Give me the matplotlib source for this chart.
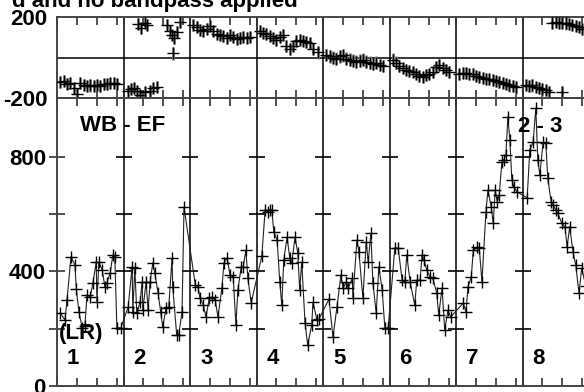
import matplotlib
matplotlib.use("Agg")
import matplotlib.pyplot as plt
import numpy as np

plt.rcParams['font.family'] = ['Liberation Sans', 'DejaVu Sans']

# amplitude (bottom panel), x in panel units (panel i spans i..i+1)
amp_x = [0.05, 0.12, 0.15, 0.21, 0.27, 0.29, 0.33, 0.38, 0.42, 0.45, 0.50, 0.54, 0.59, 0.60, 0.63,
         0.68, 0.72, 0.75, 0.80, 0.84, 0.87, 0.90, 0.96,
         1.07, 1.13, 1.14, 1.17, 1.20, 1.25, 1.28, 1.29, 1.34, 1.37, 1.40, 1.44, 1.47, 1.52, 1.56,
         1.59, 1.64, 1.68, 1.73, 1.74, 1.80, 1.83, 1.88, 1.91,
         2.08, 2.12, 2.15, 2.20, 2.24, 2.29, 2.33, 2.38, 2.42, 2.48, 2.51, 2.56, 2.60, 2.65, 2.69,
         2.72, 2.77, 2.80, 2.84, 2.87, 2.92,
         3.08, 3.13, 3.17, 3.20, 3.23, 3.26, 3.31, 3.35, 3.38, 3.41, 3.46, 3.50, 3.53, 3.58, 3.62,
         3.65, 3.68, 3.73, 3.77, 3.83, 3.85, 3.91, 3.94,
         4.09, 4.15, 4.21, 4.27, 4.30, 4.35, 4.38, 4.44, 4.45, 4.51, 4.54, 4.60, 4.65, 4.68, 4.72,
         4.75, 4.80, 4.84, 4.89, 4.93, 4.98,
         5.08, 5.13, 5.19, 5.23, 5.26, 5.31, 5.38, 5.41, 5.46, 5.49, 5.52, 5.56, 5.61, 5.65, 5.71,
         5.74, 5.79, 5.83, 5.88, 5.92,
         6.11, 6.15, 6.18, 6.23, 6.26, 6.32, 6.35, 6.39, 6.45, 6.48, 6.53, 6.56, 6.59, 6.62, 6.65,
         6.69, 6.72, 6.75, 6.78, 6.81, 6.84, 6.87, 6.92,
         7.07, 7.11, 7.16, 7.20, 7.23, 7.26, 7.31, 7.35, 7.38, 7.43, 7.46, 7.50, 7.53, 7.59, 7.64,
         7.67, 7.71, 7.76, 7.80, 7.85, 7.89, 7.95]
amp_y = [255, 230, 300, 451, 423, 339, 258, 203, 210, 318, 311, 360, 433, 293, 433,
         405, 346, 360, 395, 458, 451, 203, 203,
         276, 416, 258, 412, 255, 293, 363, 265, 363, 265, 363, 430, 395, 325, 258,
         206, 272, 276, 447, 346, 178, 178, 258, 625,
         353, 346, 307, 283, 241, 307, 311, 300, 241, 342, 430, 447, 388, 381, 213,
         335, 416, 416, 475, 377, 290,
         454, 615, 608, 615, 615, 538, 510, 363, 283, 440, 520, 447, 430, 520, 465,
         335, 433, 220, 143, 213, 293, 230, 234,
         304, 171, 276, 388, 342, 363, 342, 377, 307, 510, 468, 307, 503, 433, 534,
         360, 255, 416, 335, 203, 203,
         482, 482, 370, 363, 458, 363, 283, 370, 370, 458, 440, 405, 381, 377, 325,
         248, 342, 196, 265, 241,
         290, 258, 346, 381, 475, 486, 482, 363, 608, 685, 625, 569, 685, 643, 667,
         783, 790, 807, 940, 859, 720, 695, 678,
         657, 825, 852, 971, 790, 737, 852, 849, 727, 643, 632, 615, 604, 569, 555,
         486, 555, 468, 423, 325, 412, 350]

# phase (top panel)
ph_x = [0.05, 0.1, 0.15, 0.2, 0.25, 0.3, 0.35, 0.4, 0.45, 0.5, 0.55, 0.6, 0.65, 0.7, 0.75, 0.8,
        0.85, 0.9,
        1.07, 1.12, 1.16, 1.2, 1.25, 1.33, 1.4, 1.45, 1.5, 1.22, 1.27, 1.32, 1.35, 1.65, 1.7,
        1.73, 1.76, 1.8, 1.75, 1.85,
        2.05, 2.1, 2.15, 2.2, 2.25, 2.3, 2.35, 2.4, 2.45, 2.5, 2.55, 2.6, 2.65, 2.7, 2.75, 2.8,
        2.85, 2.9,
        3.05, 3.1, 3.15, 3.2, 3.25, 3.3, 3.35, 3.4, 3.45, 3.5, 3.55, 3.6, 3.65, 3.7, 3.75, 3.8,
        3.85, 3.92,
        4.05, 4.1, 4.15, 4.2, 4.25, 4.3, 4.35, 4.4, 4.45, 4.5, 4.55, 4.6, 4.65, 4.7, 4.75, 4.8,
        4.85, 4.9,
        5.05, 5.1, 5.15, 5.2, 5.25, 5.3, 5.35, 5.4, 5.45, 5.5, 5.55, 5.6, 5.65, 5.7, 5.75, 5.8,
        5.85, 5.9,
        6.05, 6.1, 6.15, 6.2, 6.25, 6.3, 6.35, 6.4, 6.45, 6.5, 6.55, 6.6, 6.65, 6.7, 6.75, 6.8,
        6.85, 6.9,
        7.05, 7.1, 7.15, 7.2, 7.25, 7.3, 7.35, 7.4, 7.6,
        7.45, 7.5, 7.55, 7.6, 7.65, 7.7, 7.75, 7.8, 7.85, 7.9]
ph_y = [-120, -118, -130, -125, -150, -182, -128, -135, -140, -138, -142, -135, -140, -130,
        -132, -128, -125, -130,
        -165, -155, -150, -165, -185, -172, -165, -150, -145, 165, 145, 170, 160, 160, 130,
        110, 95, 125, 20, 175,
        160, 150, 135, 130, 140, 155, 130, 115, 110, 105, 95, 110, 100, 90, 95, 100, 95, 100,
        130, 120, 115, 105, 95, 85, 100, 110, 55, 40, 55, 80, 85, 80, 75, 70, 40, 25,
        12, 5, 0, -5, 5, 10, -5, -10, -15, -20, -15, -10, -20, -25, -30, -25, -35, -43,
        -10, -25, -40, -50, -60, -65, -70, -80, -90, -95, -85, -80, -70, -45, -35, -50, -60,
        -70,
        -80, -75, -78, -80, -82, -90, -95, -100, -105, -108, -112, -118, -122, -128, -132,
        -138, -142, -148,
        -135, -140, -138, -145, -150, -158, -160, -170, -172,
        170, 175, 172, 170, 168, 165, 160, 155, 150, 140]
ph_err = 30

panel_names = ['1', '2', '3', '4', '5', '6', '7', '8']

W, H = 584, 392
fig = plt.figure(figsize=(W / 100, H / 100), dpi=100)

def box(x0, y0, x1, y1):
    return [x0 / W, 1 - y1 / H, (x1 - x0) / W, (y1 - y0) / H]

ax_ph = fig.add_axes(box(57, 17, 589, 98))
ax_am = fig.add_axes(box(57, 98, 589, 386))

xt = [i + 0.3 * k for i in range(8) for k in range(4)]

for ax in (ax_ph, ax_am):
    ax.set_xlim(0, 8)
    ax.set_xticks(xt)
    ax.set_xticklabels([])
    ax.tick_params(axis='x', which='both', direction='in', top=True, bottom=True,
                   length=6, width=1.2, color='#333333')
    for s in ax.spines.values():
        s.set_color('#444444')
        s.set_linewidth(1.4)
    for i in range(1, 8):
        ax.axvline(i, color='black', lw=1.1, zorder=1)

# phase panel
ax_ph.set_ylim(-200, 200)
ax_ph.axhline(0, color='black', lw=1.1)
ax_ph.errorbar(ph_x, ph_y, yerr=ph_err, fmt='none', ecolor='#888888', elinewidth=2.0, zorder=2)
ax_ph.plot(ph_x, ph_y, ls='none', marker='+', ms=9, mew=1.0, color='black', zorder=3)
ax_ph.set_yticks([-200, 200])
ax_ph.set_yticklabels(['-200', '200'], fontsize=16, fontweight='bold')
ax_ph.tick_params(axis='y', length=0, pad=7)

# amplitude panel
ax_am.set_ylim(0, 1006)
ax_am.plot(amp_x, amp_y, color='#222222', lw=0.8, marker='+', ms=9, mew=1.0, mec='black', zorder=3)
ax_am.set_yticks([0, 400, 800])
ax_am.set_yticks([200, 600], minor=True)
ax_am.set_yticklabels(['0', '400', '800'], fontsize=16, fontweight='bold')
ax_am.tick_params(axis='y', which='both', direction='inout', length=12, width=1.2,
                  color='#333333', pad=2)
yt = [200, 400, 600, 800]
for i in range(1, 8):
    ax_am.plot(np.full(len(yt), i), yt, ls='none', marker='_', ms=12, mew=1.2, color='black',
               zorder=2)

txt = dict(fontsize=16, fontweight='bold', color='black')
fig.text(80 / W, 1 - 131 / H, 'WB - EF', ha='left', va='baseline', **txt)
fig.text(518 / W, 1 - 132 / H, '2 - 3', ha='left', va='baseline', **txt)
fig.text(59 / W, 1 - 339 / H, '(LR)', ha='left', va='baseline', **txt)
for i, name in enumerate(panel_names):
    fig.text((67 + 66.5 * i) / W, 1 - 364 / H, name, ha='left', va='baseline', **txt)
fig.text(298 / W, 1 - 7 / H, 'd and no bandpass applied', ha='right', va='baseline', **txt)

fig.savefig('out.png', dpi=100)
